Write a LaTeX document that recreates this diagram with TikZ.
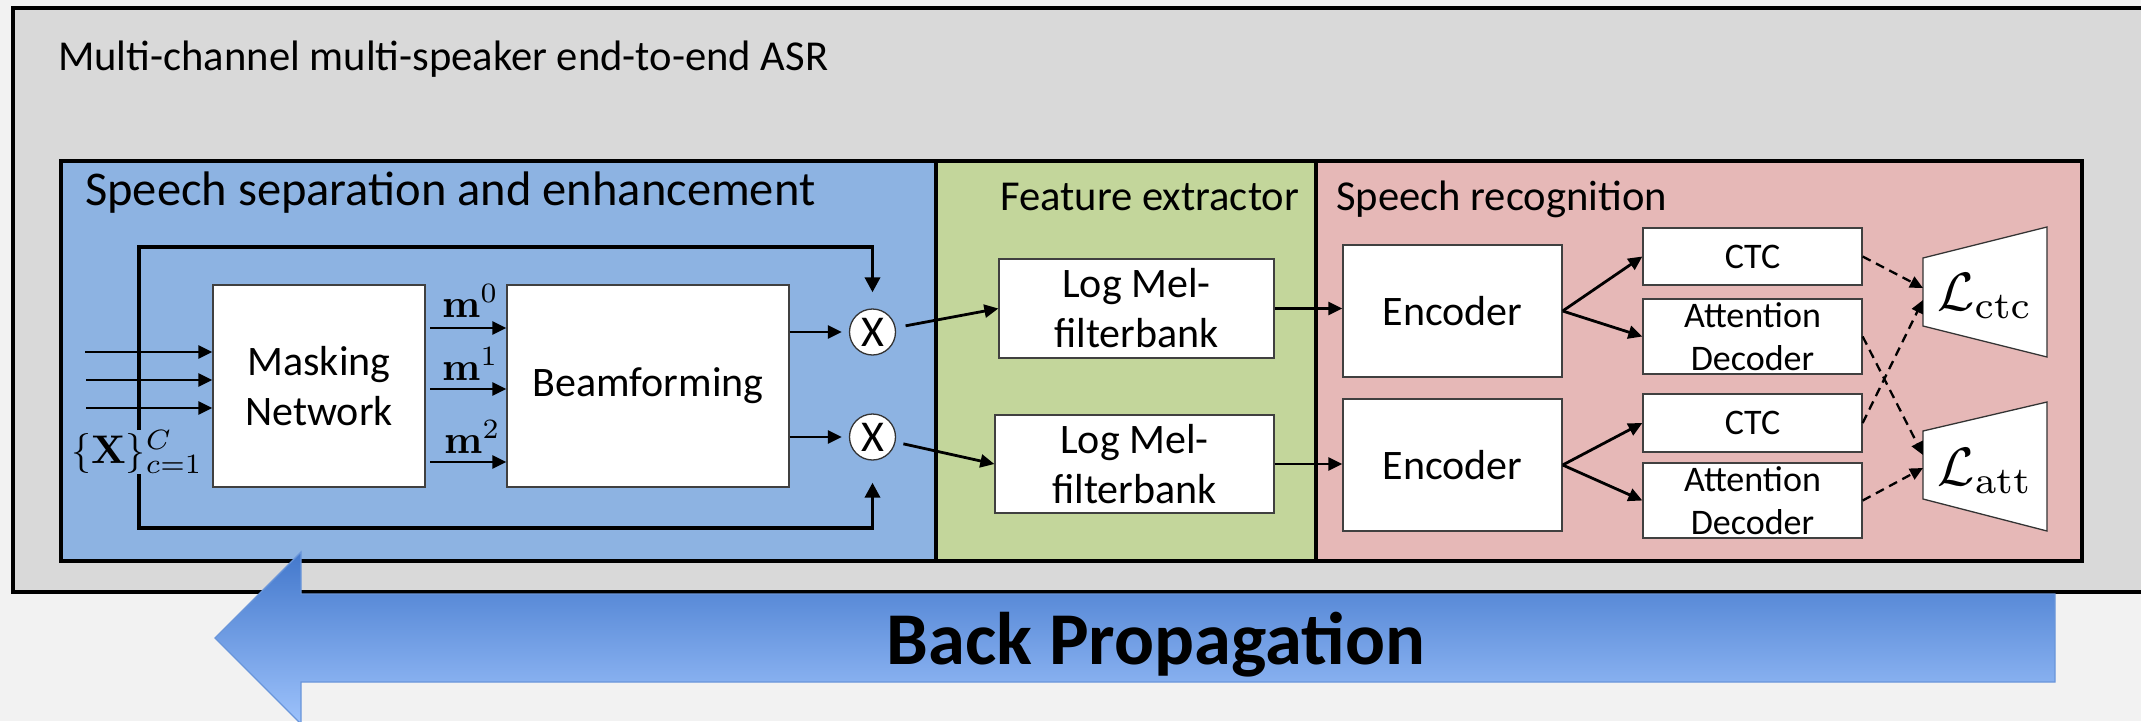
\documentclass[tikz,border=0pt]{standalone}
\usepackage{graphicx}
\usepackage[no-math]{fontspec}
\setmainfont{Carlito}
\usetikzlibrary{arrows.meta}

\definecolor{pagebg}{HTML}{F2F2F2}
\definecolor{outerfill}{HTML}{D9D9D9}
\definecolor{sepfill}{HTML}{8DB3E2}
\definecolor{featfill}{HTML}{C3D69B}
\definecolor{recfill}{HTML}{E6B8B7}
\definecolor{bpTop}{HTML}{4378CC}
\definecolor{bpBot}{HTML}{9DC2FB}
\definecolor{bpEdge}{HTML}{6A96DA}

% math set at 10pt and scaled up
\newcommand{\bigmath}[2]{\scalebox{#1}{\fontsize{10}{12}\selectfont$#2$}}

\tikzset{
  frame/.style={line width=4pt, draw=black},
  blk/.style={draw=black!75, line width=1.3pt, fill=white, inner sep=0pt,
    align=center, font=\fontsize{42}{50}\selectfont},
  sblk/.style={blk, font=\fontsize{36}{43}\selectfont},
  arr/.style={line width=2.8pt, -{Triangle[length=14pt,width=13pt]}},
  fb/.style={line width=3.5pt, -{Triangle[length=15pt,width=15pt]}},
  lossarrow/.style={line width=2.3pt, dash pattern=on 9pt off 6pt,
    -{Triangle[length=13pt,width=12pt]}},
  title/.style={anchor=base west, inner sep=0pt, font=\fontsize{42.6}{50}\selectfont},
  mlab/.style={anchor=base west, inner sep=0pt},
  mult/.style={circle, draw=black!80, line width=1.3pt, fill=white,
    minimum size=46pt, inner sep=0pt, font=\fontsize{44}{44}\selectfont},
  loss/.style={draw=black!80, line width=1.3pt, fill=white},
  losslab/.style={anchor=base, inner sep=0pt},
}

\begin{document}
\begin{tikzpicture}[x=1pt, y=-1pt]
  \fill[pagebg] (0,0) rectangle (2141,721);
  \useasboundingbox (0,0) rectangle (2141,721);

  % frames
  \draw[frame, fill=outerfill] (13,8) rectangle (2170,592);
  \draw[frame, fill=sepfill] (61,161) rectangle (936,561);
  \draw[frame, fill=featfill] (936,161) rectangle (1316,561);
  \draw[frame, fill=recfill] (1316,161) rectangle (2082,561);

  % titles
  \node[title] (tmain) at (58,70) {Multi-channel multi-speaker end-to-end ASR};
  \node[title, font=\fontsize{48.5}{56}\selectfont] (tsep) at (85,205) {Speech separation and enhancement};
  \node[title] (tfeat) at (1000,210) {Feature extractor};
  \node[title] (trec) at (1336,210) {Speech recognition};

  % separation and enhancement
  \node[blk, minimum width=212pt, minimum height=202pt] (mask) at (319,386) {Masking\\Network};
  \node[blk, minimum width=282pt, minimum height=202pt] (beam) at (648,386) {Beamforming};
  \node[mult] (x1) at (872.5,332) {X};
  \node[mult] (x2) at (872.5,437) {X};

  \node[inner sep=0pt] (xin) at (137,452) {\bigmath{4}{\{\mathbf{X}\}_{c=1}^{C}}};

  \coordinate (in1) at (85,352);
  \coordinate (in2) at (86,380);
  \coordinate (in3) at (86,408);
  \draw[arr] (in1) -- (in1 -| mask.west);
  \draw[arr] (in2) -- (in2 -| mask.west);
  \draw[arr] (in3) -- (in3 -| mask.west);

  \coordinate (m0) at (430,328);
  \coordinate (m1) at (430,389);
  \coordinate (m2) at (430,462);
  \draw[arr] (m0) -- (m0 -| beam.west);
  \draw[arr] (m1) -- (m1 -| beam.west);
  \draw[arr] (m2) -- (m2 -| beam.west);
  \node[mlab] (mk0) at (442,317) {\bigmath{4}{\mathbf{m}^0}};
  \node[mlab] (mk1) at (442,380) {\bigmath{4}{\mathbf{m}^1}};
  \node[mlab] (mk2) at (444,453) {\bigmath{4}{\mathbf{m}^2}};

  \draw[arr, shorten >=7pt] (beam.east |- x1) -- (x1);
  \draw[arr, shorten >=7pt] (beam.east |- x2) -- (x2);

  \coordinate (lt) at (139,247);
  \coordinate (lb) at (139,528);
  \draw[fb, shorten >=16pt] (xin.north -| lt) -- (lt) -| (x1);
  \draw[fb, shorten >=22pt] (xin.south -| lb) -- (lb) -| (x2);

  % feature extractor
  \node[blk, minimum width=275pt, minimum height=99pt] (lm1) at (1136.5,308.5) {Log Mel-\\filterbank};
  \node[blk, minimum width=279pt, minimum height=98pt] (lm2) at (1134.5,464) {Log Mel-\\filterbank};
  \draw[arr, shorten <=10pt] (x1) -- (lm1.west);
  \draw[arr, shorten <=8pt] (x2) -- (lm2.west);

  % speech recognition
  \node[blk, minimum width=219pt, minimum height=132pt] (enc1) at (1452.5,311) {Encoder};
  \node[blk, minimum width=219pt, minimum height=132pt] (enc2) at (1452.5,465) {Encoder};
  \draw[arr] (lm1.east) -- (lm1.east -| enc1.west);
  \draw[arr] (lm2.east) -- (lm2.east -| enc2.west);

  \node[sblk, minimum width=219pt, minimum height=57pt] (ctc1) at (1752.5,256.5) {CTC};
  \node[sblk, minimum width=219pt, minimum height=75pt] (att1) at (1752.5,336.5) {Attention\\Decoder};
  \node[sblk, minimum width=219pt, minimum height=58pt] (ctc2) at (1752.5,423) {CTC};
  \node[sblk, minimum width=219pt, minimum height=75pt] (att2) at (1752.5,500.5) {Attention\\Decoder};
  \draw[arr] (enc1.east) -- (ctc1.west);
  \draw[arr] (enc1.east) -- (att1.west);
  \draw[arr] (enc2.east) -- (ctc2.west);
  \draw[arr] (enc2.east) -- (att2.west);

  % losses
  \draw[loss] (1923,258) -- (2047,227) -- (2047,357) -- (1923,326) -- cycle;
  \draw[loss] (1923,431) -- (2047,402) -- (2047,531) -- (1923,499) -- cycle;
  \node[losslab] (lctc) at (1985,310) {\bigmath{5.4}{\mathcal{L}_{\mathrm{ctc}}}};
  \node[losslab] (latt) at (1985,485) {\bigmath{5.4}{\mathcal{L}_{\mathrm{att}}}};

  \coordinate (tc1) at (1923,288);
  \coordinate (tc2) at (1923,300);
  \coordinate (ta1) at (1923,455);
  \coordinate (ta2) at (1923,468);
  \draw[lossarrow] (ctc1.east) -- (tc1);
  \draw[lossarrow] (ctc2.east) -- (tc2);
  \draw[lossarrow] (att1.east) -- (ta1);
  \draw[lossarrow] (att2.east) -- (ta2);

  % back propagation arrow
  \shade[top color=bpTop, bottom color=bpBot, draw=bpEdge, line width=1.2pt]
    (301,552) -- (215,638) -- (301,724) -- (301,682) -- (2055,682)
    -- (2055,594) -- (301,594) -- cycle;
  \node[anchor=base, inner sep=0pt, font=\bfseries\fontsize{74.5}{75}\selectfont] (bp)
    at (1156,664) {Back Propagation};
\end{tikzpicture}
\end{document}
